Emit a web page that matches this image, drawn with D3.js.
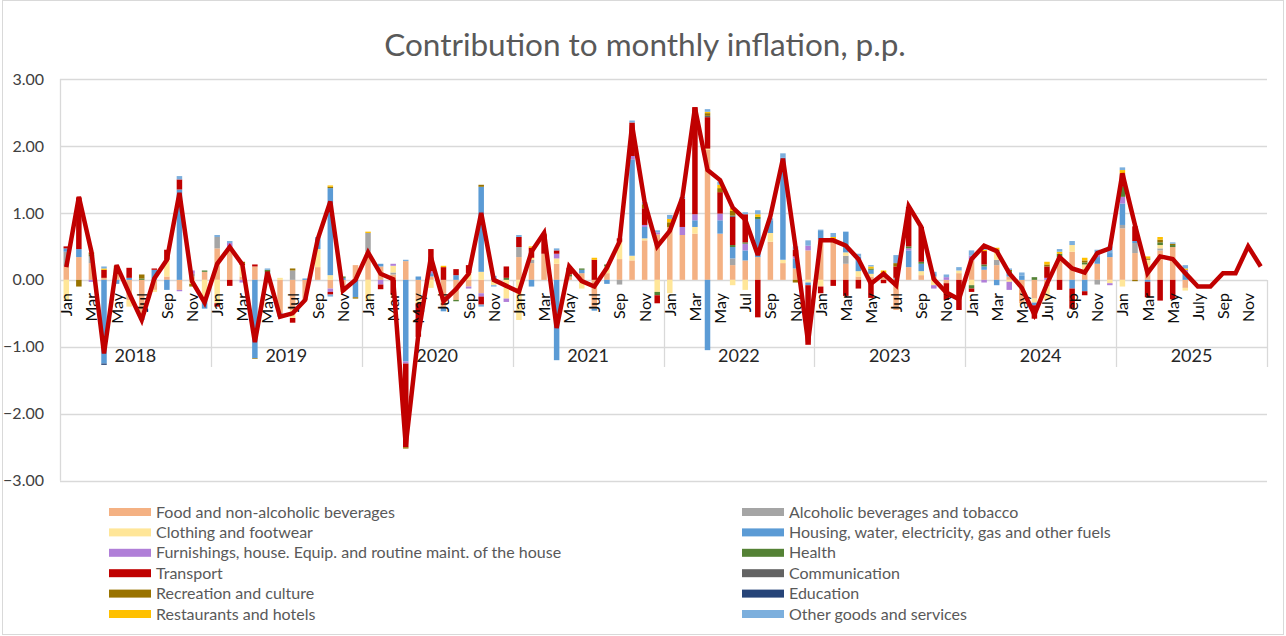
<!DOCTYPE html>
<html>
<head>
<meta charset="utf-8">
<script src="https://cdn.jsdelivr.net/npm/d3@7"></script>
<style>
  body { margin: 0; background: #fff; }
  svg { display: block; font-family: Lato, "Open Sans", sans-serif; }
</style>
</head>
<body>
<div id="chart"></div>
<script>
// categories
var years = ["2018", "2019", "2020", "2021", "2022", "2023", "2024", "2025"];
var monthTicks = ["Jan", "", "Mar", "", "May", "", "Jul", "", "Sep", "", "Nov", ""];
var monthTicksLate = ["Jan", "", "Mar", "", "May", "", "July", "", "Sep", "", "Nov", ""];
var yTicks = [3, 2, 1, 0, -1, -2, -3];

// contributions, Jan 2018 .. Jun 2025 (p.p.)
var food = [0.2, 0.34, 0.25, 0.03, 0.1, -0.3, -0.55, -0.15, 0.05, -0.15, 0.05, 0.12,
  0.47, 0.49, 0.05, 0.2, 0.08, -0.5, -0.45, -0.3, 0.19, -0.13, -0.1, 0.22,
  0.42, 0.2, 0.08, 0.28, -0.3, 0.05, -0.42, -0.3, -0.1, -0.2, 0, 0,
  0.34, 0.25, 0.39, 0.24, 0.05, 0.1, -0.43, 0.1, 0.31, 0.29, 0.59, 0.68,
  0.79, 0.67, 0.69, 1.94, 0.69, 0.22, 0.29, 0.34, 0.57, 0.25, 0.17, 0.44,
  0.6, 0.56, 0.24, 0.05, 0.05, 0.05, -0.45, 0.19, 0.07, 0.05, -0.05, 0.1,
  0.29, 0.15, 0.22, 0.05, -0.35, -0.28, -0.1, 0.34, 0.42, 0.15, 0.24, 0.34,
  0.77, 0.4, 0.2, 0.44, 0.49, -0.12];
var alcohol = [0.22, 0, 0.1, 0, 0, 0, 0, 0, 0, 0, 0.04, 0,
  0.17, 0, 0, 0, 0, 0, 0.14, 0, 0, 0, 0, 0,
  0.28, 0, 0.03, 0, 0, 0, 0, 0, 0, 0, 0, 0,
  0.15, 0.05, 0, 0, 0, 0, 0, 0, -0.07, 0, 0, 0,
  0, 0, 0, 0, 0, 0.1, 0, 0, 0, 0, 0, 0,
  0, 0, 0.12, 0, 0, 0, 0.03, 0, 0, 0, 0, 0,
  0, 0, 0.08, 0, 0, 0, 0, 0, 0, 0, -0.07, 0,
  0.05, 0.15, 0, 0.03, 0, 0];
var clothing = [-0.3, 0, 0, 0, 0, -0.1, 0, -0.03, 0.25, 0, -0.06, -0.3,
  -0.35, 0, 0.17, 0, -0.05, 0.03, -0.12, 0, 0.27, 0.07, -0.08, 0,
  -0.32, 0, 0.1, 0, -0.05, -0.12, 0, 0, 0.1, 0.12, -0.08, -0.28,
  -0.6, 0.03, 0, 0.08, 0, -0.13, 0, 0.1, 0.26, 0.07, 0.03, -0.18,
  -0.2, 0, 0.1, 0.02, 0, -0.08, -0.15, 0, 0.13, 0.05, 0, -0.04,
  -0.1, 0, 0.05, 0.08, 0.04, 0, 0, 0, 0.06, -0.08, 0, 0.04,
  -0.08, 0, 0.12, -0.03, 0, -0.06, -0.2, 0, 0.1, 0.08, 0, -0.05,
  -0.1, 0, 0.1, 0.05, 0, -0.04];
var housing = [0.05, 0.12, 0, -1.25, -0.06, 0.03, -0.05, 0.15, -0.15, 1.35, 0, -0.13,
  0, 0, 0, -1.17, 0.03, -0.05, 0, 0.02, 0.15, 1.3, 0.03, -0.26,
  0, 0.04, 0, -1.22, 0.05, 0.05, -0.05, 0.07, 0, 1.27, 0.06, 0,
  0, -0.1, 0, -1.2, 0, 0.05, -0.03, -0.06, 0, 1.44, 0.17, 0,
  0, 0, 0.1, -1.05, 0.2, 0.17, 0.15, 0.57, 0.19, 1.53, 0.15, -0.04,
  0.13, 0, 0.31, 0.22, 0.06, 0, 0, 0.25, 0.11, 0.05, 0, 0,
  0, 0.05, -0.08, 0.05, 0.06, -0.04, 0, 0, -0.13, -0.17, 0.1, 0.06,
  0.32, 0.03, -0.03, 0, 0, 0.12];
var furnishings = [0, 0, -0.03, 0, 0, 0, 0, 0, 0, -0.02, 0.05, 0,
  0, 0.06, -0.04, 0, 0, 0, 0, 0, 0, -0.05, 0, 0,
  0, -0.07, 0.03, -0.03, 0, 0.03, 0, 0, -0.03, -0.05, 0, -0.05,
  0, 0, 0, 0.07, 0, 0, 0, 0, 0, 0.05, 0.03, 0.03,
  0, 0.12, 0.09, 0, 0.1, 0, 0.1, 0, 0, 0, 0.03, 0.07,
  0, 0, 0, 0, 0, 0, 0, 0.03, 0, -0.05, 0.04, 0,
  0.07, -0.04, 0, -0.12, 0, 0, 0.03, 0, 0, 0, 0.03, -0.03,
  0.1, 0, 0, 0, 0, 0.03];
var health = [0, 0, 0.03, 0, 0.05, 0, 0.02, 0, 0, 0, 0, 0.02,
  0, 0, 0, 0, 0.04, 0, 0, 0, 0, 0, 0.02, 0,
  0, 0, 0, 0, 0, 0, 0, -0.02, 0, 0, 0, 0.03,
  0, 0, 0, 0, 0.03, 0.02, 0, 0.03, 0, 0, 0, -0.05,
  0, 0, 0, 0, 0, 0.03, 0.02, 0.03, 0, 0, 0, 0,
  0, 0, 0, 0, 0.02, 0, 0, 0.03, 0.03, 0, 0, 0,
  -0.05, 0.03, 0, 0.03, 0, 0.04, 0, 0.05, 0, 0.03, 0, 0,
  0.15, 0, 0, 0.04, 0.03, 0];
var transport = [0.03, 0.77, 0, 0.12, 0, 0.15, 0, 0.02, 0.15, 0.15, 0, 0,
  -0.05, -0.09, 0.02, 0.03, 0, 0, -0.07, 0, 0, -0.04, 0, 0,
  0, -0.07, -0.22, -1.25, -0.5, 0.33, 0.19, 0.09, 0.12, -0.12, 0, 0.17,
  0.15, 0.15, 0.28, 0.05, 0.1, 0, 0.3, 0, 0.05, 0.5, 0.25, -0.12,
  0, 0.42, 1.6, 0.47, 0.32, 0.42, 0.42, -0.56, 0, 0, 0.1, -0.89,
  -0.1, -0.09, -0.24, -0.13, -0.27, -0.05, 0.17, 0.59, 0.52, 0, -0.25, -0.45,
  -0.05, 0.2, 0, 0, 0, -0.2, 0.17, -0.15, -0.3, -0.06, 0, 0,
  0.2, 0.22, -0.23, -0.31, -0.29, 0];
var communication = [0, 0, 0, 0, 0, 0, 0, 0, 0, 0, 0, 0,
  0, 0, 0, 0, 0, 0, 0, 0, 0, 0, 0, 0,
  0, 0, 0, 0, 0, 0, 0, 0, 0, 0, 0, 0,
  0, 0, 0, 0, 0, 0, 0, 0, 0, 0, 0, 0,
  0, 0, 0, 0.02, 0, 0.02, 0, 0, 0, 0, 0, 0,
  0, 0, 0, 0, 0, 0, 0, 0, 0, 0, 0, 0,
  0, 0, 0, 0, 0, 0, 0, 0, 0, 0, 0, 0,
  0, 0, 0, 0, 0, 0];
var recreation = [0, -0.1, 0.03, 0, 0.06, 0, 0.06, 0, 0, 0, -0.04, 0,
  0, 0, 0.03, -0.01, 0, 0, 0.03, 0, 0, 0.02, 0, -0.02,
  0, 0, 0, -0.02, 0, 0, 0, 0, 0, 0.03, 0, 0,
  0, 0, 0.02, 0, 0, 0, 0, 0, 0, 0, 0.06, 0,
  0.07, 0, 0, 0.04, 0.06, 0.07, 0, 0, 0, 0, -0.04, 0,
  0, 0.04, 0, 0, 0, 0.04, 0.05, 0, 0, 0, 0, 0,
  0, 0, 0.03, 0.02, 0, 0, 0.03, 0, 0, 0.03, 0, 0,
  0, -0.02, 0.02, 0.04, 0.02, 0];
var education = [0, 0, 0, -0.02, 0, 0, 0, 0, 0, 0, 0, 0,
  0, 0, 0, 0, 0, 0, 0, 0, 0, 0, 0, 0,
  0, 0, 0, 0, 0, 0, 0, 0, 0, 0, 0, 0,
  0, 0, 0, 0, 0, 0, 0, 0, 0, 0, 0, 0,
  0, 0, 0, 0, 0, 0, 0, 0, 0, 0, 0, 0,
  0, 0, 0, 0, 0, 0, 0, 0, 0, 0, 0, 0,
  0, 0, 0, 0, 0, 0, 0, 0, 0, 0, 0, 0,
  0, 0, 0, 0, 0, 0];
var restaurants = [0, 0, 0, 0.02, 0, 0, 0, 0, 0, 0, 0, 0,
  0, 0, 0, 0, 0, 0, 0, 0, 0, 0.02, 0, 0,
  0.02, 0, 0, 0, 0, 0, 0.02, 0, 0, 0, 0, 0,
  0, 0.02, 0, 0, 0, 0, 0.03, 0, 0, 0, 0, 0,
  0.05, 0, 0, 0.02, 0.05, 0.04, 0, 0.04, 0, 0, 0, 0,
  0, 0.04, 0, 0, 0.03, 0.05, 0, 0, 0, 0, 0, 0,
  0, 0.02, 0.03, 0, 0, 0, 0.04, 0.03, 0, 0.04, 0, 0,
  0.05, 0, 0.03, 0.04, 0, 0.02];
var other = [0, 0, 0, 0.03, 0, 0, 0, 0, 0, 0.05, 0, 0,
  0.03, 0.03, 0, 0, 0.02, 0, 0, 0, 0.03, -0.03, 0, 0,
  0, 0, 0, 0.02, 0, 0, 0, 0, 0, -0.03, -0.02, 0,
  0.03, 0, 0, 0.03, 0, 0, 0, 0, 0, 0.03, 0.03, 0.03,
  0.06, 0.03, 0, 0.04, 0.05, 0, 0.03, 0.06, 0.03, 0.06, 0.05, 0.08,
  0.02, 0.06, 0, 0.04, 0.02, 0, 0.12, 0, 0, 0.02, 0.04, 0.05,
  0.08, 0.05, 0, 0.02, 0.05, 0, 0, 0.04, 0.06, 0, 0.08, 0.1,
  0.04, 0, 0, 0, 0.02, 0.05];

// monthly inflation, Jan 2018 .. Dec 2025
var total = [0.19, 1.24, 0.42, -1.1, 0.22, -0.2, -0.6, 0.02, 0.3, 1.3, -0.02, -0.34,
  0.24, 0.49, 0.23, -0.93, 0.12, -0.55, -0.5, -0.3, 0.61, 1.17, -0.16, 0.0,
  0.41, 0.09, 0.01, -2.47, -0.82, 0.34, -0.32, -0.14, 0.09, 1.0, 0.0, -0.09,
  -0.18, 0.42, 0.7, -0.72, 0.2, -0.02, -0.1, 0.18, 0.57, 2.31, 1.16, 0.5,
  0.73, 1.23, 2.57, 1.64, 1.49, 1.08, 0.9, 0.37, 0.95, 1.81, 0.49, -0.93,
  0.59, 0.59, 0.51, 0.31, -0.06, 0.09, -0.08, 1.1, 0.79, 0.01, -0.19, -0.29,
  0.31, 0.51, 0.43, 0.1, -0.12, -0.52, -0.06, 0.34, 0.17, 0.11, 0.4, 0.47,
  1.59, 0.82, 0.1, 0.35, 0.31, 0.1, -0.1, -0.1, 0.1, 0.1, 0.5, 0.2];

var seriesNames = ["Food and non-alcoholic beverages", "Alcoholic beverages and tobacco",
  "Clothing and footwear", "Housing, water, electricity, gas and other fuels",
  "Furnishings, house. Equip. and routine maint. of the house", "Health",
  "Transport", "Communication", "Recreation and culture", "Education",
  "Restaurants and hotels", "Other goods and services"];
var seriesValues = [food, alcohol, clothing, housing, furnishings, health, transport,
  communication, recreation, education, restaurants, other];
var colors = ["#F4B183", "#A5A5A5", "#FFE699", "#5B9BD5", "#B07FD8", "#548235",
  "#C00000", "#636363", "#997300", "#264478", "#FFC000", "#7CAFDD"];

var width = 1286, height = 636;
var plotLeft = 60, plotRight = 1267, plotTop = 79, plotBottom = 480.7;

var svg = d3.select("#chart").append("svg")
    .attr("width", width)
    .attr("height", height);

svg.append("rect")
    .attr("x", 2.5).attr("y", 0.5)
    .attr("width", 1281).attr("height", 634)
    .attr("fill", "#fff")
    .attr("stroke", "#d9d9d9");

var months = d3.range(years.length * 12);
var x = d3.scaleBand().domain(months).range([plotLeft, plotRight]);
var y = d3.scaleLinear().domain([-3, 3]).range([plotBottom, plotTop]);
var cx = function(i) { return x(i) + x.bandwidth() / 2; };

// title
svg.append("text")
    .attr("x", 645).attr("y", 56)
    .attr("text-anchor", "middle")
    .attr("font-size", 31.5)
    .attr("fill", "#595959")
    .text("Contribution to monthly inflation, p.p.");

// grid
svg.append("g").selectAll("line").data(yTicks).enter().append("line")
    .attr("x1", plotLeft).attr("x2", plotRight)
    .attr("y1", function(d) { return Math.round(y(d)) + 0.5; })
    .attr("y2", function(d) { return Math.round(y(d)) + 0.5; })
    .attr("stroke", "#d9d9d9")
    .attr("stroke-width", 1.3);

svg.append("line")
    .attr("x1", plotLeft + 0.5).attr("x2", plotLeft + 0.5)
    .attr("y1", plotTop).attr("y2", plotBottom)
    .attr("stroke", "#d9d9d9")
    .attr("stroke-width", 1.3);

svg.append("g").selectAll("text").data(yTicks).enter().append("text")
    .attr("x", 44)
    .attr("y", function(d) { return y(d); })
    .attr("dy", "0.35em")
    .attr("text-anchor", "end")
    .attr("font-size", 16)
    .attr("fill", "#404040")
    .text(function(d) { return d3.format(".2f")(d); });

// category axis boxes
var y0 = Math.round(y(0));
var yEnd = 367;
svg.append("g").selectAll("line").data(d3.range(1, years.length + 1)).enter().append("line")
    .attr("x1", function(k) { return Math.round(x(0) + k * 12 * x.step()) + 0.5; })
    .attr("x2", function(k) { return Math.round(x(0) + k * 12 * x.step()) + 0.5; })
    .attr("y1", y0).attr("y2", yEnd)
    .attr("stroke", "#d9d9d9")
    .attr("stroke-width", 1.3);

// stacked bars
var rows = [];
for (var i = 0; i < food.length; i++) {
  var r = {i: i};
  for (var k = 0; k < seriesNames.length; k++) r[seriesNames[k]] = seriesValues[k][i];
  rows.push(r);
}
var stacked = d3.stack().keys(seriesNames).offset(d3.stackOffsetDiverging)(rows);
var bw = 5.5;

svg.append("g").selectAll("g").data(stacked).enter().append("g")
    .attr("fill", function(d, k) { return colors[k]; })
  .selectAll("rect").data(function(d) { return d.filter(function(p) { return p[1] !== p[0]; }); })
  .enter().append("rect")
    .attr("x", function(p) { return cx(p.data.i) - bw / 2; })
    .attr("y", function(p) { return y(Math.max(p[0], p[1])); })
    .attr("width", bw)
    .attr("height", function(p) { return Math.abs(y(p[0]) - y(p[1])); });

// month and year labels
svg.append("g").selectAll("text").data(months.filter(function(i) { return i % 2 === 0; }))
  .enter().append("text")
    .attr("transform", function(i) { return "translate(" + (cx(i) + 6) + "," + 293 + ") rotate(-90)"; })
    .attr("text-anchor", "end")
    .attr("font-size", 16)
    .attr("fill", "#0d0d0d")
    .text(function(i) {
      var yr = Math.floor(i / 12);
      return yr >= 6 ? monthTicksLate[i % 12] : monthTicks[i % 12];
    });

svg.append("g").selectAll("text").data(years).enter().append("text")
    .attr("x", function(d, k) { return x(0) + (k + 0.5) * 12 * x.step(); })
    .attr("y", 356)
    .attr("dy", "0.35em")
    .attr("text-anchor", "middle")
    .attr("font-size", 18)
    .attr("fill", "#262626")
    .text(function(d) { return d; });

// total line
var line = d3.line()
    .x(function(d, i) { return cx(i); })
    .y(function(d) { return y(d); });

svg.append("path")
    .attr("d", line(total))
    .attr("fill", "none")
    .attr("stroke", "#C00000")
    .attr("stroke-width", 4.5)
    .attr("stroke-linejoin", "miter")
    .attr("stroke-miterlimit", 3);

// legend
var legend = svg.append("g").selectAll("g").data(seriesNames).enter().append("g")
    .attr("transform", function(d, k) {
      return "translate(" + (k % 2 === 0 ? 109 : 742) + "," + (512 + Math.floor(k / 2) * 20.4) + ")";
    });
legend.append("rect")
    .attr("x", 0).attr("y", -4)
    .attr("width", 42).attr("height", 8)
    .attr("fill", function(d, k) { return colors[k]; });
legend.append("text")
    .attr("x", 47)
    .attr("dy", "0.35em")
    .attr("font-size", 16)
    .attr("fill", "#595959")
    .text(function(d) { return d; });
</script>
</body>
</html>
